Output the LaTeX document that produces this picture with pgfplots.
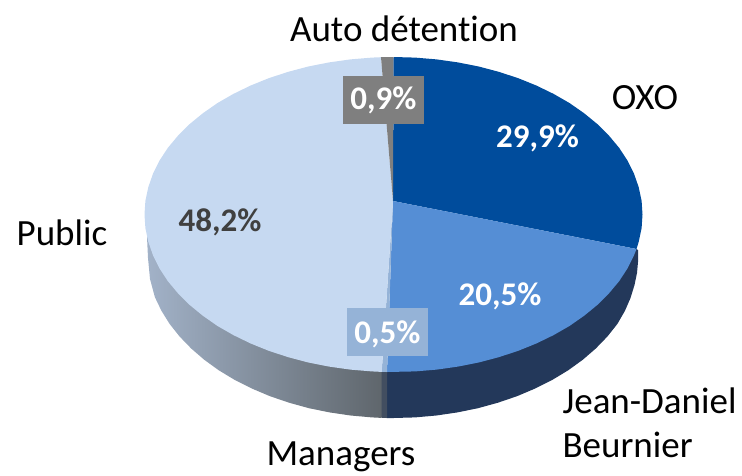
\documentclass[border=0pt]{standalone}
\usepackage{pgfplots}
\pgfplotsset{compat=1.18}
\usepackage{fontspec}
\setmainfont{Carlito}[Ligatures=NoCommon]
\definecolor{oxo}{RGB}{0,76,156}
\definecolor{jd}{RGB}{85,142,213}
\definecolor{pub}{RGB}{198,217,241}
\definecolor{auto}{RGB}{127,127,127}
\definecolor{mgr}{RGB}{149,179,215}
\definecolor{sideL}{RGB}{162,178,200}
\definecolor{sideR}{RGB}{95,102,108}
\definecolor{sideD}{RGB}{35,56,90}
\definecolor{sideM}{RGB}{66,78,96}
\definecolor{txt}{RGB}{64,64,64}
\newcommand{\lab}[1]{\fontsize{37}{40}\selectfont #1}
\newcommand{\pct}[1]{\fontsize{33}{36}\selectfont\bfseries #1}
\begin{document}
\begin{tikzpicture}
\useasboundingbox (0,0) rectangle (742pt,475pt);
\begin{axis}[
  scale only axis, width=742pt, height=475pt,
  xmin=0, xmax=742, ymin=0, ymax=475, y dir=reverse,
  hide axis, clip=false,
]
% side: public
\addplot[draw=none, left color=sideL, right color=sideR] coordinates {
(381.7,372)(147,237)(148,258)(150,279)(154.9,297.2)(161.4,310.7)(169.6,323.9)(179.6,336.5)(191.2,348.5)(204.3,359.8)(218.8,370.3)(234.7,379.9)(251.8,388.5)(270,396.2)(289.1,402.7)(309,408.2)(329.6,412.4)(350.6,415.5)(372,417.4)(381.7,417.9)} -- cycle;
% side: jean-daniel
\addplot[draw=none, fill=sideD] coordinates {
(387,372)(636.5,249)(638,250)(638,262)(637,273)(634.5,285)(630.5,298)(625,310.7)(617.4,323.9)(607.4,336.5)(595.8,348.5)(582.7,359.8)(568.2,370.3)(552.3,379.9)(535.2,388.5)(517,396.2)(497.9,402.7)(478,408.2)(457.4,412.4)(436.4,415.5)(415,417.4)(393.5,418)(387,418)} -- cycle;
% side: managers
\addplot[draw=none, fill=sideM] coordinates {(381.7,372)(381.7,417.9)(387,418)(387,372)} -- cycle;
% top: OXO
\addplot[draw=none, fill=oxo] coordinates {
(393,201)(393.5,57)(415.2,57.6)(436.7,59.4)(457.9,62.4)(478.7,66.5)(498.7,71.8)(518,78.1)(536.3,85.5)(553.6,93.9)(569.6,103.1)(584.2,113.3)(597.5,124.2)(609.1,135.8)(619.2,147.9)(627.5,160.6)(634,173.7)(638.7,187.2)(641.6,200.8)(642.5,214.5)(641.6,228.2)(638.7,241.8)(636.5,249)} -- cycle;
% top: Jean-Daniel Beurnier
\addplot[draw=none, fill=jd] coordinates {
(393,201)(636.5,249)(634,255.3)(627.5,268.4)(619.2,281.1)(609.1,293.2)(597.5,304.8)(584.2,315.7)(569.6,325.9)(553.6,335.1)(536.3,343.5)(518,350.9)(498.7,357.2)(478.7,362.5)(457.9,366.6)(436.7,369.6)(415.2,371.4)(387,372)} -- cycle;
% top: Managers
\addplot[draw=none, fill=mgr] coordinates {(393,201)(387,372)(381.7,371.9)} -- cycle;
% top: Public
\addplot[draw=none, fill=pub] coordinates {
(393,201)(381.7,371.9)(371.8,371.4)(350.3,369.6)(329.1,366.6)(308.3,362.5)(288.3,357.2)(269,350.9)(250.7,343.5)(233.4,335.1)(217.4,325.9)(202.8,315.7)(189.5,304.8)(177.9,293.2)(167.8,281.1)(159.5,268.4)(153,255.3)(148.3,241.8)(145.4,228.2)(144.5,214.5)(145.4,200.8)(148.3,187.2)(153,173.7)(159.5,160.6)(167.8,147.9)(177.9,135.8)(189.5,124.2)(202.8,113.3)(217.4,103.1)(233.4,93.9)(250.7,85.5)(269,78.1)(288.3,71.8)(308.3,66.5)(329.1,62.4)(350.3,59.4)(371.8,57.6)(381,57.2)} -- cycle;
% top: Auto detention
\addplot[draw=none, fill=auto] coordinates {(393,201)(381,57.2)(393.5,57)} -- cycle;
% label boxes
\addplot[draw=none, fill=auto] coordinates {(343,76)(424,76)(424,123.7)(343,123.7)} -- cycle;
\addplot[draw=none, fill=mgr] coordinates {(347,308)(427.7,308)(427.7,355.7)(347,355.7)} -- cycle;
% percentages
\node[white] at (axis cs:537.5,138) {\pct{29,9\%}};
\node[white] at (axis cs:500,296) {\pct{20,5\%}};
\node[txt] at (axis cs:220,222) {\pct{48,2\%}};
\node[white] at (axis cs:383.5,100) {\pct{0,9\%}};
\node[white] at (axis cs:387.5,334) {\pct{0,5\%}};
% names
\node at (axis cs:404,29) {\lab{Auto détention}};
\node at (axis cs:645,98) {\lab{OXO}};
\node at (axis cs:62,233) {\lab{Public}};
\node at (axis cs:341,456.5) {\lab{Managers}};
\node[anchor=west] at (axis cs:559,401) {\lab{Jean-Daniel}};
\node[anchor=west] at (axis cs:559,445) {\lab{Beurnier}};
\end{axis}
\end{tikzpicture}
\end{document}
